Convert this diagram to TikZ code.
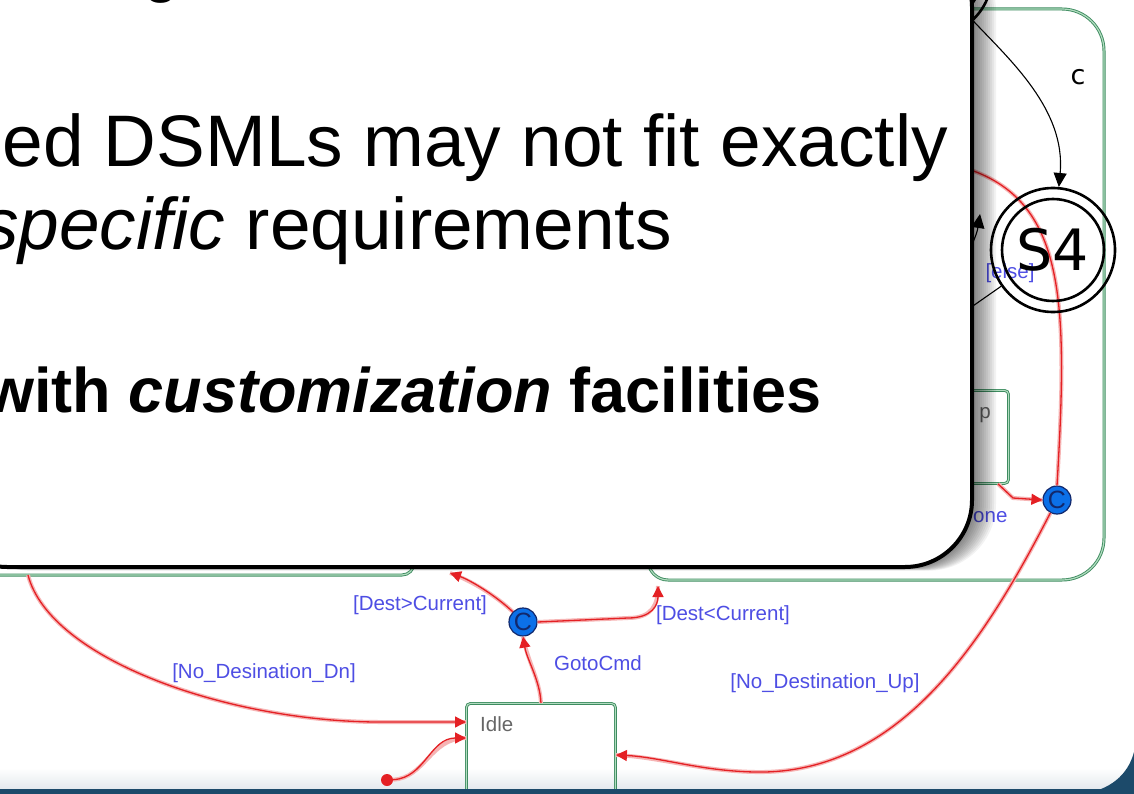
\documentclass[tikz,border=0pt]{standalone}
\usepackage{fontspec}
\setmainfont{Liberation Sans}
\newfontfamily\dejavu{DejaVu Sans}
\usetikzlibrary{arrows.meta}

\definecolor{transred}{RGB}{228,32,36}
\definecolor{halopink}{RGB}{246,180,180}
\definecolor{guardblue}{RGB}{78,78,228}
\definecolor{stategreen}{RGB}{62,140,96}
\definecolor{palegreen}{RGB}{178,220,192}
\definecolor{junctionblue}{RGB}{12,112,232}
\definecolor{junctionnavy}{RGB}{18,40,108}
\definecolor{slideblue}{RGB}{28,74,106}

\begin{document}
\begin{tikzpicture}[x=1pt, y=-1pt,
    state/.style={draw=stategreen, line width=0.9pt, double=palegreen,
                  double distance=1pt, rounded corners=4pt},
    region/.style={draw=stategreen, line width=0.9pt, double=palegreen,
                   double distance=1.2pt},
    trans/.style={draw=transred, line width=1.3pt,
                  preaction={draw=halopink, line width=4pt, arrows=-},
                  -{Triangle[length=11pt, width=11pt]}},
    guard/.style={text=guardblue, font=\fontsize{20.5}{22}\selectfont, inner sep=0pt},
    statename/.style={text=black!60, font=\fontsize{20.5}{22}\selectfont, inner sep=0pt},
    junction/.style={circle, fill=junctionblue, draw=junctionnavy, line width=1.2pt,
                     minimum size=28pt, inner sep=0pt, text=junctionnavy,
                     font=\fontsize{25}{25}\selectfont},
    ring/.style={circle, draw, line width=2.6pt, inner sep=0pt},
    edge/.style={draw, line width=1.1pt, -{Triangle[length=14pt, width=13pt]}},
    slidetext/.style={inner sep=0pt, font=\fontsize{73}{80}\selectfont}
]
\useasboundingbox (0,0) rectangle (1134,794);
\clip (0,0) rectangle (1134,794);
\fill[white] (0,0) rectangle (1134,794);
\shade[top color=white, bottom color=slideblue!12] (0,768) rectangle (1134,789);

% state chart behind the callout
\draw[region] (940,9) [rounded corners=42pt] -- (1104,9) -- (1104,580) [rounded corners=20pt] -- (648,580) -- (648,530);
\draw[region, rounded corners=12pt] (-20,575) -- (414,575) -- (414,530);

\node[state, minimum width=149pt, minimum height=110pt, anchor=north west] (idle) at (466,703) {};
\node[statename, anchor=north west] (idlelbl) at ([shift={(14pt,-13pt)}]idle.north west) {Idle};
\node[state, minimum width=140pt, minimum height=93pt, anchor=north east] (upst) at (1009,390) {};
\node[statename] (uplbl) at (985,415) {p};

\node[junction] (cjunc) at (523,622) {C};
\node[junction] (cjunc2) at (1057,500) {C};
\node[circle, fill=transred, minimum size=12pt, inner sep=0pt] (init) at (387,780) {};

\coordinate (dnsrc) at (28,575);
\coordinate (dnframe) at (450,573);
\coordinate (upframe) at (658,586);
\coordinate (loopend) at (965,168);
\coordinate (donefrom) at ([xshift=-11pt]upst.south east);

\draw[trans] (idle.north) .. controls (540,680) and (527,660) .. (cjunc.south);
\draw[trans] (cjunc.east) -- (628,618) .. controls (652,618) and (658,605) .. (upframe);
\draw[trans] (cjunc.north west) .. controls (495,595) and (470,580) .. (dnframe);
\draw[trans] (dnsrc) .. controls (50,660) and (230,722) .. (380,722) -- ([yshift=-19pt]idle.north west);
\draw[trans] (init) .. controls (425,778) and (430,738) .. ([yshift=-35pt]idle.north west);
\draw[trans] (cjunc2) .. controls (985,640) and (900,775) .. (755,772)
             .. controls (700,771) and (660,757) .. ([yshift=-52pt]idle.north east);
\draw[trans] (donefrom) -- (1013,498) -- (cjunc2.west);
\draw[trans, -] (cjunc2.north) .. controls (1068,300) and (1066,200) .. (loopend);

\node[guard] (gotolbl) at (598,663) {GotoCmd};
\node[guard] (ltlbl) at (723,615) {[Dest<Current]};
\node[guard] (gtlbl) at (420,605) {[Dest>Current]};
\node[guard] (dnlbl) at (264,673) {[No\_Desination\_Dn]};
\node[guard] (uplbl2) at (825,683) {[No\_Destination\_Up]};
\node[guard] (elselbl) at (1010,273) {[else]};
\node[guard, anchor=west] (donelbl) at (973,517) {one};

% slide frame
\fill[slideblue] (0,789) rectangle (1134,794);
\fill[slideblue] (1134,752) .. controls (1128,775) and (1110,790) .. (1082,794) -- (1134,794) -- cycle;

% automaton
\node[ring, minimum size=124pt] (s4) at (1053,250) {};
\node[ring, minimum size=102pt, font=\dejavu\fontsize{57}{57}\selectfont] (s4in) at (s4) {S4};
\node[ring, minimum size=124pt] (s3) at (930,-25) {};
\node[ring, minimum size=102pt] (s3in) at (s3) {};
\coordinate (s4out) at (950,322);
\coordinate (backfrom) at (955,300);
\coordinate (backto) at (980,214);
\draw[edge] (s3) .. controls (1010,60) and (1066,110) .. (s4);
\node[font=\dejavu\fontsize{27}{27}\selectfont, inner sep=0pt] (clbl) at (1078,77) {c};
\draw[line width=1.1pt] (s4) -- (s4out);
\draw[edge] (backfrom) .. controls (962,260) and (976,240) .. (backto);

% callout
\foreach \s in {1,...,12}
  \fill[black, opacity=0.05, rounded corners=67pt, shift={(2*\s,0.3*\s)}]
    (-60,-60) -- (972,-60) -- (972,567) -- (-60,567) -- cycle;
\draw[line width=4pt, fill=white, rounded corners=67pt]
    (-60,-60) -- (972,-60) -- (972,567) -- (-60,567) -- cycle;

\node[font=\fontsize{56}{60}\selectfont\bfseries, inner sep=0pt, anchor=base] (titleg) at (162,-8) {g};
\node[slidetext, anchor=base east] (line1) at (948,167) {ed DSMLs may not fit exactly};
\node[slidetext, anchor=base east] (line2) at (672,250) {\textit{specific} requirements};
\node[slidetext, anchor=base east, font=\fontsize{63}{70}\selectfont\bfseries] (line3) at (822,412)
    {with \textit{customization} facilities};
\end{tikzpicture}
\end{document}
